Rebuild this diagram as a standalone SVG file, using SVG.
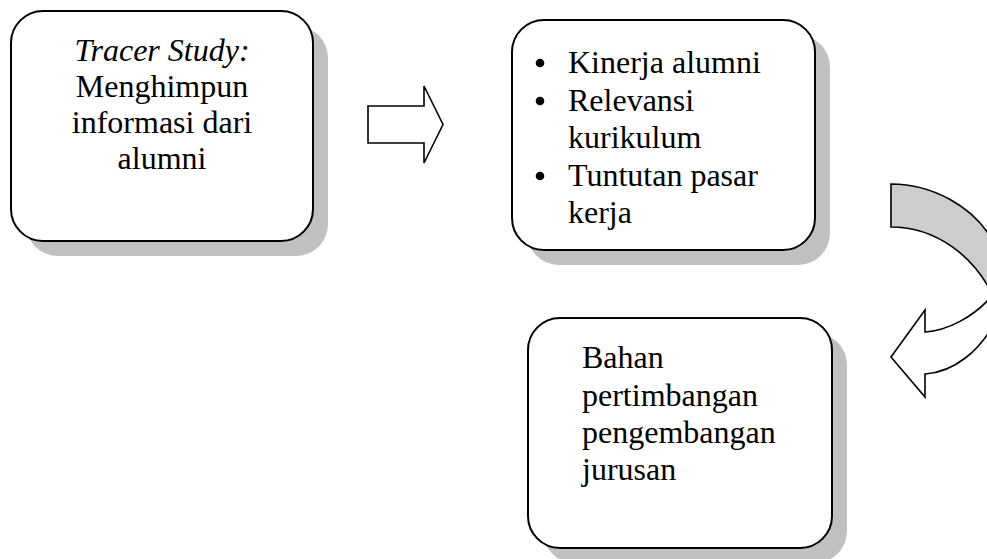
<svg xmlns="http://www.w3.org/2000/svg" width="987" height="559" viewBox="0 0 987 559">
<style>
.shadow{fill:#c0c0c0;stroke:none}
.box{fill:#ffffff;stroke:#000000;stroke-width:2}
.t{font-family:"Liberation Serif","Times New Roman",serif;font-size:32px;fill:#000000}
.arrow{fill:#ffffff;stroke:#000000;stroke-width:1.6;stroke-linejoin:miter}
.back{fill:#cdcdcd;stroke:#000000;stroke-width:1.6}
</style>
<rect width="987" height="559" fill="#ffffff"/>
<g id="node-tracer">
<rect class="shadow" x="26" y="26" width="302" height="230" rx="32" ry="32"/>
<rect class="box" x="11" y="11" width="302" height="230" rx="32" ry="32"/>
<text class="t" text-anchor="middle"><tspan x="162" y="61" font-style="italic">Tracer Study:</tspan><tspan x="162" y="97">Menghimpun</tspan><tspan x="162" y="133">informasi dari</tspan><tspan x="162" y="169">alumni</tspan></text>
</g>
<g id="node-hasil">
<rect class="shadow" x="527" y="35" width="303" height="230" rx="32" ry="32"/>
<rect class="box" x="512" y="20" width="303" height="230" rx="32" ry="32"/>
<circle cx="540" cy="63" r="4.3"/>
<circle cx="540" cy="101" r="4.3"/>
<circle cx="540" cy="176" r="4.3"/>
<text class="t"><tspan x="568" y="73">Kinerja alumni</tspan><tspan x="568" y="111">Relevansi</tspan><tspan x="568" y="148">kurikulum</tspan><tspan x="568" y="186">Tuntutan pasar</tspan><tspan x="568" y="223">kerja</tspan></text>
</g>
<g id="node-bahan">
<rect class="shadow" x="543" y="333" width="304" height="230" rx="32" ry="32"/>
<rect class="box" x="528" y="318" width="304" height="230" rx="32" ry="32"/>
<text class="t"><tspan x="582" y="368">Bahan</tspan><tspan x="582" y="406">pertimbangan</tspan><tspan x="582" y="443">pengembangan</tspan><tspan x="582" y="480">jurusan</tspan></text>
</g>
<g id="connectors">
<polygon class="arrow" points="368,106 424,106 424,86 443,124.5 424,163 424,143 368,143"/>
<path class="back" d="M891,184 C930,184 975,205 995,245 L995,300 C975,255 935,227 891,227 Z"/>
<path class="arrow" d="M995,322 C980,350 955,372 925,374 L925,397 L891,357 L925,310 L925,332 C945,331 975,318 995,292"/>
</g>
</svg>
